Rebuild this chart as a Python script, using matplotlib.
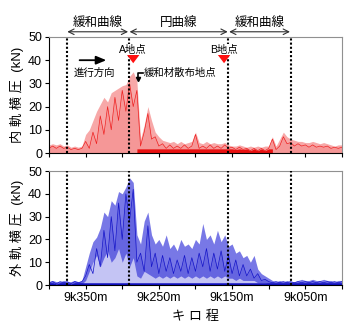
import numpy as np
import matplotlib
matplotlib.use("Agg")
from matplotlib import pyplot as plt
from matplotlib import transforms

plt.rcParams['font.family'] = ['Liberation Sans', 'Noto Sans CJK JP']

# kilometre position (m), every 5 m from 9k400m down to 9k000m
dist = np.arange(9400, 8999, -5)

# inner rail lateral force (kN): envelope and spiky trace
inner_env = [3.5, 4, 3.5, 4, 3, 3.5, 2.5, 3, 2.5, 3,
             8, 10, 14, 18, 21, 24, 22, 26, 27, 28,
             29, 29.5, 33, 35, 31, 6, 12, 20, 14, 9,
             7, 5.5, 5, 4.5, 5, 4, 5, 4, 4.5, 5,
             9, 4.5, 4, 5, 4, 4.5, 4, 4, 4.5, 3.5,
             3, 3, 3.5, 3, 2.5, 3, 2.5, 3, 2.5, 3,
             3, 7, 3, 6, 9, 7, 6, 5.5, 5, 5,
             4.5, 4.5, 5, 4.5, 4, 4.5, 4, 3.5, 3, 3.5, 3.5]
inner_trace = [2, 3, 2, 3, 2, 2.5, 1.5, 2, 1.5, 2,
               5, 2, 9, 4, 16, 8, 20, 10, 24, 14,
               27, 18, 30, 20, 27, 3, 9, 17, 6, 7,
               3, 4, 2, 3.5, 2, 3, 2, 3.5, 2, 3,
               8, 2, 3, 2, 3.5, 2, 3, 2, 3.5, 2,
               2.5, 1.5, 2.5, 1.5, 2, 1, 2, 1, 2, 1,
               2, 6, 1.5, 3, 7, 4, 4.5, 3, 4, 3,
               3.5, 2.5, 3.5, 2.5, 3, 2.5, 3, 2, 2.5, 2, 2.5]

# outer rail lateral force (kN): envelope, light lower band, spiky trace
outer_env = [1.5, 2, 1.5, 1.5, 2, 1.5, 1.5, 2, 1.5, 2,
             8, 14, 19, 21, 25, 32, 30, 37, 35, 41,
             40, 43, 47, 45, 22, 18, 28, 32, 22, 18,
             20, 17, 22, 16, 18, 15, 20, 17, 18, 16,
             20, 18, 27, 20, 22, 18, 24, 19, 22, 17,
             18, 14, 15, 12, 13, 10, 13, 7, 5, 4,
             3, 2, 1.5, 2, 1.5, 2, 1.5, 1.5, 2, 2.5,
             2, 2, 2.5, 2, 2, 2.5, 2, 2, 1.5, 2, 2]
outer_low = [0.5, 0.5, 0.5, 0.5, 0.5, 0.5, 0.5, 0.5, 0.5, 0.5,
             2, 6, 10, 13, 8, 12, 15, 10, 12, 16,
             10, 14, 8, 12, 4, 3, 6, 5, 4, 3,
             4, 3, 4, 3, 4, 3, 4, 3, 4, 3,
             4, 3, 4, 3, 4, 3, 4, 3, 4, 3,
             3, 2, 3, 2, 2, 2, 2, 1, 1, 1,
             0.5, 0.5, 0.5, 0.5, 0.5, 0.5, 0.5, 0.5, 0.5, 0.5,
             0.5, 0.5, 0.5, 0.5, 0.5, 0.5, 0.5, 0.5, 0.5, 0.5, 0.5]
outer_trace = [1, 1.5, 0.5, 1.5, 1, 1.5, 0.5, 1.5, 1, 1.5,
               4, 9, 5, 16, 8, 24, 12, 30, 15, 36,
               20, 40, 28, 42, 10, 14, 6, 26, 8, 14,
               5, 13, 6, 12, 5, 11, 6, 13, 5, 12,
               6, 14, 8, 16, 6, 14, 7, 15, 6, 13,
               5, 11, 4, 9, 4, 7, 3, 5, 2, 2.5,
               1.5, 1, 1.5, 1, 1.5, 1, 1.5, 1, 1.5, 1,
               1.5, 1, 1.5, 1, 1.5, 1, 1.5, 1, 1.5, 1, 1.5]

section_bounds = [9376, 9291, 9155, 9070]
section_names = ['緩和曲線', '円曲線', '緩和曲線']
tick_pos = [9350, 9250, 9150, 9050]
tick_labels = ['9k350m', '9k250m', '9k150m', '9k050m']
minor_ticks = list(range(9400, 8999, -50))

fig = plt.figure(figsize=(3.5, 3.28), dpi=100)
ax1 = fig.add_axes([0.14, 0.5335, 0.837, 0.3537])
ax2 = fig.add_axes([0.14, 0.131, 0.837, 0.3476])

def style(ax, ylabel):
    ax.set_xlim(9400, 9000)
    ax.set_ylim(0, 50)
    ax.set_yticks(range(0, 51, 10))
    ax.set_xticks(minor_ticks)
    ax.tick_params(direction='out', length=3, labelsize=9, width=0.8, pad=2)
    for s in ['top', 'right']:
        ax.spines[s].set_color('#909090')
    ax.set_ylabel(ylabel, fontsize=9.5, labelpad=3)
    for b in section_bounds:
        ax.axvline(b, color='black', ls=(0, (1, 1)), lw=1.5, zorder=5)

# top panel
ax1.fill_between(dist, 0, inner_env, color='#f7a8a8', lw=0)
ax1.fill_between(dist, 0, inner_trace, color='#f48888', lw=0, alpha=0.5)
ax1.plot(dist, inner_trace, color='#ee2020', lw=0.5)
dense = (dist <= 9280) & (dist >= 9095)
ax1.fill_between(dist, 0, np.minimum(inner_trace, 1.8), where=dense,
                 color='#e81010', lw=0)
style(ax1, '内 軌 横 圧  (kN)')
ax1.set_xticklabels([])

# bottom panel
ax2.fill_between(dist, 0, outer_env, color='#7878e6', lw=0)
ax2.fill_between(dist, 0, outer_trace, color='#4a4ad8', lw=0, alpha=0.4)
ax2.fill_between(dist, 0, outer_low, color='#c4c4f4', lw=0)
ax2.plot(dist, outer_trace, color='#1414c8', lw=0.5)
ax2.fill_between(dist, 0, np.minimum(outer_trace, 1.0), color='#1010c0', lw=0)
style(ax2, '外 軌 横 圧  (kN)')
ax2.set_xticklabels([dict(zip(tick_pos, tick_labels)).get(t, '') for t in minor_ticks])
ax2.set_xlabel('キ ロ 程', fontsize=9.5, labelpad=5)

# section arrows above top panel
tr = transforms.blended_transform_factory(ax1.transData, ax1.transAxes)
for i, name in enumerate(section_names):
    x0, x1 = section_bounds[i], section_bounds[i + 1]
    ax1.annotate('', xy=(x1 + 1, 1.045), xytext=(x0 - 1, 1.045), xycoords=tr, textcoords=tr,
                 arrowprops=dict(arrowstyle='<->', lw=0.8, color='#303030',
                                 shrinkA=0, shrinkB=0), annotation_clip=False)
    ax1.text((x0 + x1) / 2, 1.125, name, transform=tr, ha='center', va='center', fontsize=9)

# A / B points
for lab, x in [('A地点', 9285), ('B地点', 9161)]:
    ax1.text(x, 44.5, lab, ha='center', va='center', fontsize=7.5,
             bbox=dict(facecolor='white', edgecolor='none', pad=0.2), zorder=7)
    ax1.annotate('', xy=(x, 37.5), xytext=(x, 41.5),
                 arrowprops=dict(arrowstyle='simple,head_width=0.9,head_length=0.6,tail_width=0.5',
                                 color='#ff1010', lw=0), zorder=6)

# direction arrow
ax1.annotate('', xy=(9318, 40), xytext=(9362, 40),
             arrowprops=dict(arrowstyle='-|>,head_width=0.25,head_length=0.6', lw=1.3, color='black'))
ax1.text(9338, 34.5, '進行方向', ha='center', va='center', fontsize=7.5)

# spreading point marker
ax1.plot([9272, 9279, 9279], [34.5, 34.5, 32.5], color='black', lw=1.2)
ax1.plot([9279], [32], marker='v', color='black', ms=3)
ax1.text(9270, 34.5, '緩和材散布地点', ha='left', va='center', fontsize=7.5)

fig.savefig('out.png', dpi=100)
